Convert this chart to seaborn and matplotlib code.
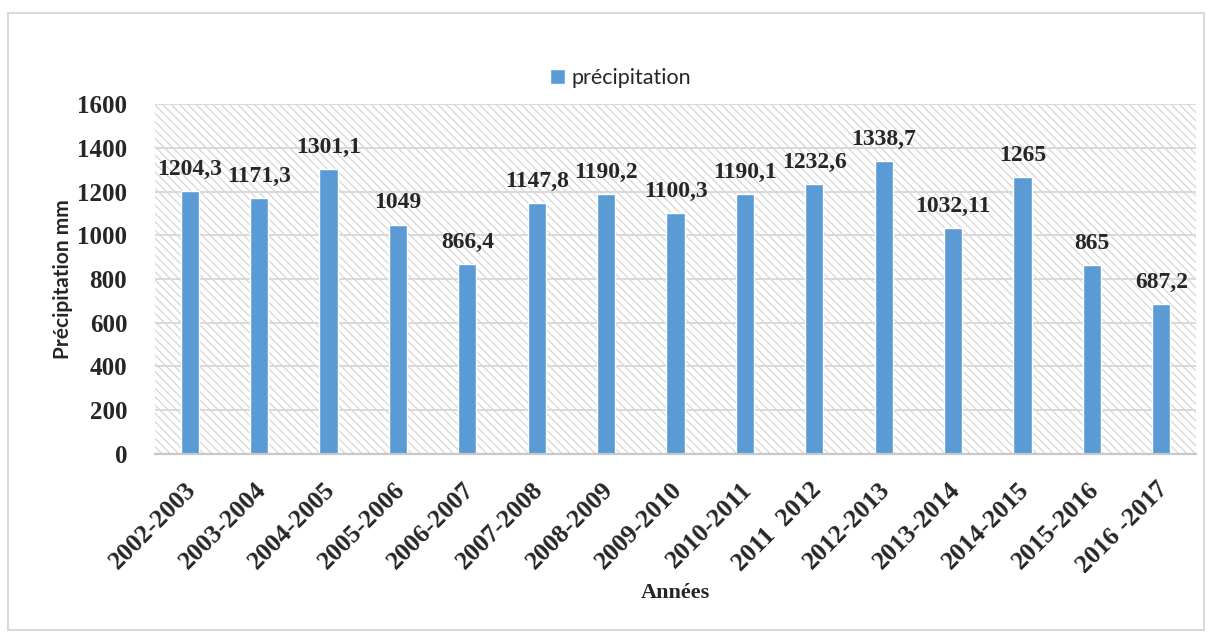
import matplotlib
matplotlib.use("Agg")
import matplotlib.pyplot as plt
import matplotlib.patches as mpatches
import matplotlib.transforms as mtransforms
import seaborn as sns
import pandas as pd

# Annual precipitation by hydrological year
annees = ["2002-2003", "2003-2004", "2004-2005", "2005-2006", "2006-2007",
          "2007-2008", "2008-2009", "2009-2010", "2010-2011", "2011  2012",
          "2012-2013", "2013-2014", "2014-2015", "2015-2016", "2016 -2017"]
precipitation = [1204.3, 1171.3, 1301.1, 1049, 866.4, 1147.8, 1190.2, 1100.3,
                 1190.1, 1232.6, 1338.7, 1032.11, 1265, 865, 687.2]
y_ticks = [0, 200, 400, 600, 800, 1000, 1200, 1400, 1600]

df = pd.DataFrame({"Années": annees, "précipitation": precipitation})

sns.set_theme(style="white")
plt.rcParams["hatch.color"] = "#d6d6d6"
plt.rcParams["hatch.linewidth"] = 0.9

serif = "Liberation Serif"
sans = "Lato"

fig = plt.figure(figsize=(12.12, 6.37), dpi=100)
ax = fig.add_axes([0.1279, 0.2873, 0.8589, 0.5494])

# Hatched plot area
ax.patch.set_facecolor("white")
ax.add_patch(mpatches.Rectangle((0, 0), 1, 1, transform=ax.transAxes,
                                facecolor="white", edgecolor="#d6d6d6",
                                hatch="\\\\\\\\", linewidth=0, zorder=0))

sns.barplot(data=df, x="Années", y="précipitation", color="#5B9BD5",
            width=0.26, saturation=1, ax=ax, label="précipitation", zorder=3)

ax.set_ylim(0, 1600)
ax.set_xlim(-0.5, len(annees) - 0.5)
ax.set_yticks(y_ticks)
ax.yaxis.grid(True, color="#d9d9d9", linewidth=1.4, zorder=1)
ax.set_axisbelow(True)
for s in ["top", "right", "left"]:
    ax.spines[s].set_visible(False)
ax.spines["bottom"].set_color("#c8c8c8")
ax.spines["bottom"].set_linewidth(1.6)
ax.spines["bottom"].set_zorder(4)

ax.tick_params(axis="y", length=0, pad=20)
ax.tick_params(axis="x", length=0, pad=17)
for lab in ax.get_yticklabels():
    lab.set_fontfamily(serif)
    lab.set_fontweight("bold")
    lab.set_fontsize(18)
ax.set_xticks(range(len(annees)))
ax.set_xticklabels(annees, rotation=45, ha="right", rotation_mode="anchor",
                   fontfamily=serif, fontweight="bold", fontsize=18.5)
shift = mtransforms.ScaledTranslation(-5 / 100, 0, fig.dpi_scale_trans)
for lab in ax.get_xticklabels():
    lab.set_transform(lab.get_transform() + shift)

ax.set_xlabel("Années", fontfamily=serif, fontweight="bold", fontsize=16,
              labelpad=4)
ax.set_ylabel("Précipitation mm", fontfamily=sans, fontweight="bold",
              fontsize=15, labelpad=3)

# Value labels above each bar
for i, v in enumerate(precipitation):
    txt = f"{v:g}".replace(".", ",")
    ax.annotate(txt, (i, v), xytext=(0, 8), textcoords="offset points",
                ha="center", va="bottom", fontfamily=serif,
                fontweight="bold", fontsize=17, zorder=5)

leg = ax.legend(loc="center", bbox_to_anchor=(0.512, 0.878),
                bbox_transform=fig.transFigure, frameon=False,
                prop={"family": sans, "size": 15.5}, handlelength=0.7,
                handleheight=0.7, handletextpad=0.3)

# Outer frame of the chart
fig.patches.append(mpatches.Rectangle((8 / 1212, 1 - 630 / 637),
                                      1196 / 1212, 617 / 637,
                                      transform=fig.transFigure,
                                      fill=False, edgecolor="#d9d9d9",
                                      linewidth=1.5))

fig.savefig("out.png", dpi=100)
